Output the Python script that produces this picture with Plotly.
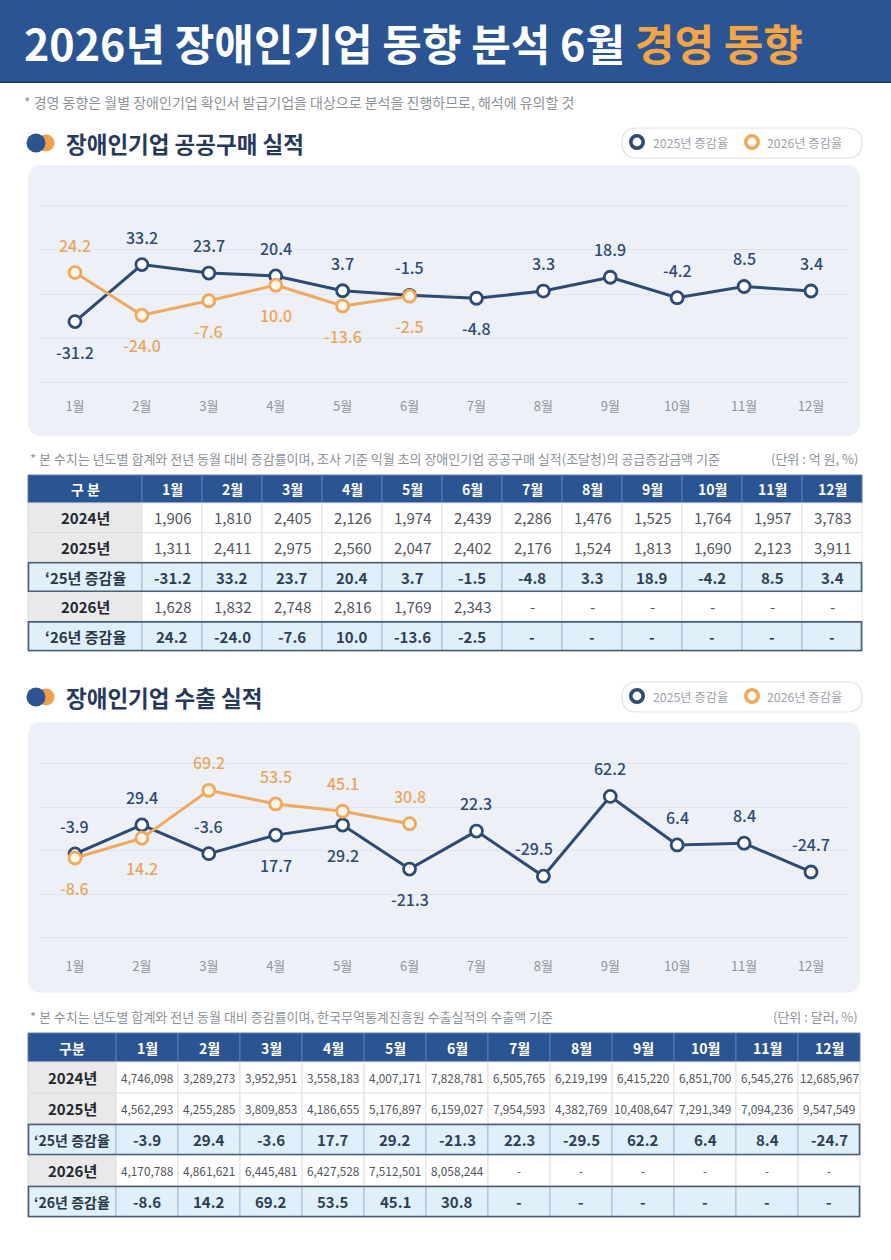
import plotly.graph_objects as go

W, H = 891, 1260

# ---------------- data ----------------
months = ['1월', '2월', '3월', '4월', '5월', '6월', '7월', '8월', '9월', '10월', '11월', '12월']

pp_2024 = [1906, 1810, 2405, 2126, 1974, 2439, 2286, 1476, 1525, 1764, 1957, 3783]
pp_2025 = [1311, 2411, 2975, 2560, 2047, 2402, 2176, 1524, 1813, 1690, 2123, 3911]
pp_rate_2025 = [-31.2, 33.2, 23.7, 20.4, 3.7, -1.5, -4.8, 3.3, 18.9, -4.2, 8.5, 3.4]
pp_2026 = [1628, 1832, 2748, 2816, 1769, 2343]
pp_rate_2026 = [24.2, -24.0, -7.6, 10.0, -13.6, -2.5]

ex_2024 = [4746098, 3289273, 3952951, 3558183, 4007171, 7828781, 6505765, 6219199,
           6415220, 6851700, 6545276, 12685967]
ex_2025 = [4562293, 4255285, 3809853, 4186655, 5176897, 6159027, 7954593, 4382769,
           10408647, 7291349, 7094236, 9547549]
ex_rate_2025 = [-3.9, 29.4, -3.6, 17.7, 29.2, -21.3, 22.3, -29.5, 62.2, 6.4, 8.4, -24.7]
ex_2026 = [4170788, 4861621, 6445481, 6427528, 7512501, 8058244]
ex_rate_2026 = [-8.6, 14.2, 69.2, 53.5, 45.1, 30.8]

row_labels = ['2024년', '2025년', '‘25년 증감율', '2026년', '‘26년 증감율']

# label placement (t = above point, b = below point)
pp_pos_2025 = ['b', 't', 't', 't', 't', 't', 'b', 't', 't', 't', 't', 't']
pp_pos_2026 = ['t', 'b', 'b', 'b', 'b', 'b']
ex_pos_2025 = ['t', 't', 't', 'b', 'b', 'b', 't', 't', 't', 't', 't', 't']
ex_pos_2026 = ['b', 'b', 't', 't', 't', 't']
ex_xshift_2025 = [0, 0, 0, 0, 0, 0, 0, -9, 0, 0, 0, 0]

# ---------------- style ----------------
FONT = 'Noto Sans CJK KR'
NAVY = '#2d4a74'
ORANGE = '#efa95e'
ORANGE_TXT = '#eba55b'
HEAD_BLUE = '#2b5592'
TITLE_ORANGE = '#f6a545'
PANEL = '#edf1f7'
GRID = '#e0e4eb'
TICK = '#8e949d'
NOTE = '#8c9198'
RATE_BG = '#dff0fb'
YEAR_BG = '#e9e9e9'


def px(x):
    return x / W


def py(y):
    return 1 - y / H


def rrect(x0, y0, x1, y1, r):
    pts = [
        ('M', [(x0 + r, y0)]), ('L', [(x1 - r, y0)]), ('Q', [(x1, y0), (x1, y0 + r)]),
        ('L', [(x1, y1 - r)]), ('Q', [(x1, y1), (x1 - r, y1)]), ('L', [(x0 + r, y1)]),
        ('Q', [(x0, y1), (x0, y1 - r)]), ('L', [(x0, y0 + r)]), ('Q', [(x0, y0), (x0 + r, y0)]),
    ]
    s = ''
    for cmd, ps in pts:
        s += cmd + ' ' + ' '.join(f'{px(a):.5f},{py(b):.5f}' for a, b in ps) + ' '
    return s + 'Z'


fig = go.Figure()
annotations = []
shapes = []
axes = {}

# ---------------- line charts ----------------
def add_lines(xa, ya, r25, r26):
    fig.add_trace(go.Scatter(
        x=months, y=r25, mode='lines+markers', xaxis=xa, yaxis=ya,
        line=dict(color=NAVY, width=3),
        marker=dict(size=12, color='white', line=dict(color=NAVY, width=2.8)),
        showlegend=False, hoverinfo='skip'))
    fig.add_trace(go.Scatter(
        x=months[:len(r26)], y=r26, mode='lines+markers', xaxis=xa, yaxis=ya,
        line=dict(color=ORANGE, width=3),
        marker=dict(size=12, color='#fff6ea', line=dict(color=ORANGE, width=2.8)),
        showlegend=False, hoverinfo='skip'))


add_lines('x', 'y', pp_rate_2025, pp_rate_2026)
add_lines('x2', 'y2', ex_rate_2025, ex_rate_2026)


def value_labels(xr, yr, vals, pos, color, xshift=None):
    for i, v in enumerate(vals):
        annotations.append(dict(
            x=months[i], y=v, xref=xr, yref=yr, text=f'{v:.1f}', showarrow=False,
            yshift=28 if pos[i] == 't' else -30,
            xshift=0 if xshift is None else xshift[i],
            font=dict(family=FONT, size=16, color=color, weight=500)))


value_labels('x', 'y', pp_rate_2025, pp_pos_2025, NAVY)
value_labels('x', 'y', pp_rate_2026, pp_pos_2026, ORANGE_TXT)
value_labels('x2', 'y2', ex_rate_2025, ex_pos_2025, NAVY, ex_xshift_2025)
value_labels('x2', 'y2', ex_rate_2026, ex_pos_2026, ORANGE_TXT)

xcommon = dict(range=[-0.523, 11.538], showgrid=False, zeroline=False, showline=False,
               ticks='', tickfont=dict(family=FONT, size=13, color=TICK), fixedrange=True)
ycommon = dict(showgrid=True, gridcolor=GRID, gridwidth=1, zeroline=False, showline=False,
               showticklabels=False, dtick=50, tick0=0, fixedrange=True)

axes['xaxis'] = dict(domain=[px(40), px(847)], anchor='y', **xcommon)
axes['yaxis'] = dict(domain=[py(397), py(175)], anchor='x',
                     range=[(294 - 397) / 0.885, (294 - 175) / 0.885], **ycommon)
axes['xaxis2'] = dict(domain=[px(40), px(847)], anchor='y2', **xcommon)
axes['yaxis2'] = dict(domain=[py(957), py(730)], anchor='x2',
                      range=[(850.5 - 957) / 0.87, (850.5 - 730) / 0.87], **ycommon)


# ---------------- tables (drawn on hidden axes, one unit = one pixel) ----------------
def fmt_rate(vals):
    return [f'<b>{v:.1f}</b>' for v in vals] + ['<b>-</b>'] * (12 - len(vals))


def fmt_num(vals):
    return [f'{v:,}' for v in vals] + ['-'] * (12 - len(vals))


def build_table(k, r2024, r2025, rate25, r2026, rate26, top, head_h, row_h, col0_w, col_w,
                num_size, head_label, label_size):
    xa, ya = f'x{k}', f'y{k}'
    widths = [col0_w] + [col_w] * 12
    edges = [0]
    for w in widths:
        edges.append(edges[-1] + w)
    tw = edges[-1]
    th = head_h + 5 * row_h
    pad = 3
    axes[f'xaxis{k}'] = dict(domain=[px(28 - pad), px(28 + tw + pad)], range=[-pad, tw + pad],
                             anchor=ya, visible=False, fixedrange=True)
    axes[f'yaxis{k}'] = dict(domain=[py(top + th + pad), py(top - pad)], range=[th + pad, -pad],
                             anchor=xa, visible=False, fixedrange=True)

    rows = [fmt_num(r2024), fmt_num(r2025), fmt_rate(rate25), fmt_num(r2026), fmt_rate(rate26)]
    is_rate = [False, False, True, False, True]

    def cell(c, y0, y1, fill, line, text, size, color):
        shapes.append(dict(type='rect', xref=xa, yref=ya, x0=edges[c], x1=edges[c + 1],
                           y0=y0, y1=y1, fillcolor=fill, line=dict(color=line, width=1),
                           layer='above'))
        annotations.append(dict(x=(edges[c] + edges[c + 1]) / 2, y=(y0 + y1) / 2,
                                xref=xa, yref=ya, text=text, showarrow=False,
                                xanchor='center', yanchor='middle',
                                font=dict(family=FONT, size=size, color=color)))

    headers = [f'<b>{head_label}</b>'] + [f'<b>{m}</b>' for m in months]
    for c in range(13):
        cell(c, 0, head_h, HEAD_BLUE, '#5b7fb5', headers[c], 14, 'white')
    for r in range(5):
        y0 = head_h + r * row_h
        y1 = y0 + row_h
        if is_rate[r]:
            cell(0, y0, y1, RATE_BG, '#a9bccf', f'<b>{row_labels[r]}</b>', label_size, '#2b3646')
            for c in range(12):
                cell(c + 1, y0, y1, RATE_BG, '#a9bccf', rows[r][c], 15, '#2e3e56')
        else:
            cell(0, y0, y1, YEAR_BG, '#dcdcdc', f'<b>{row_labels[r]}</b>', 15, '#23272e')
            for c in range(12):
                cell(c + 1, y0, y1, 'white', '#e1e1e1', rows[r][c], num_size, '#50555c')
    for r in range(5):
        if is_rate[r]:
            y0 = head_h + r * row_h
            shapes.append(dict(type='rect', xref=xa, yref=ya, x0=0.5, x1=tw - 0.5,
                               y0=y0 + 0.5, y1=y0 + row_h - 0.5, fillcolor='rgba(0,0,0,0)',
                               line=dict(color='#4d5d73', width=1.6), layer='above'))


build_table(3, pp_2024, pp_2025, pp_rate_2025, pp_2026, pp_rate_2026,
            top=475, head_h=28, row_h=29.6, col0_w=114, col_w=60, num_size=15,
            head_label='구 분', label_size=15)
build_table(4, ex_2024, ex_2025, ex_rate_2025, ex_2026, ex_rate_2026,
            top=1033, head_h=29, row_h=31, col0_w=88, col_w=62, num_size=11.8,
            head_label='구분', label_size=14)

# ---------------- decorations ----------------
shapes += [
    dict(type='rect', xref='paper', yref='paper', x0=0, x1=1, y0=py(82), y1=1,
         fillcolor=HEAD_BLUE, line=dict(width=0), layer='below'),
    dict(type='line', xref='paper', yref='paper', x0=0, x1=1, y0=py(82), y1=py(82),
         line=dict(color='#1f3e6e', width=2), layer='below'),
    dict(type='path', xref='paper', yref='paper', path=rrect(28, 165, 860, 436, 14),
         fillcolor=PANEL, line=dict(width=0), layer='below'),
    dict(type='path', xref='paper', yref='paper', path=rrect(28, 722, 860, 993, 14),
         fillcolor=PANEL, line=dict(width=0), layer='below'),
]


def circle(cx, cy, r, fill, line_color=None, lw=0):
    return dict(type='circle', xref='paper', yref='paper',
                x0=px(cx - r), x1=px(cx + r), y0=py(cy + r), y1=py(cy - r),
                fillcolor=fill, line=dict(color=line_color or fill, width=lw), layer='above')


def section(title, cy, note, unit, note_y):
    shapes.append(circle(46, cy, 8.5, '#f0a04b'))
    shapes.append(circle(36, cy, 9.5, HEAD_BLUE))
    annotations.append(dict(x=px(64), y=py(cy), xref='paper', yref='paper', xanchor='left',
                            yanchor='middle', showarrow=False, text=title,
                            font=dict(family=FONT, size=22.5, color='#26395a', weight='bold')))
    # legend pill
    shapes.append(dict(type='path', xref='paper', yref='paper',
                       path=rrect(622, cy - 15, 862, cy + 15, 15), fillcolor='white',
                       line=dict(color='#e0e0e0', width=1.2), layer='above'))
    shapes.append(circle(637, cy - 1, 6.2, 'white', NAVY, 3.6))
    shapes.append(circle(752, cy - 1, 6.2, 'white', ORANGE, 3.6))
    for xx, t in [(651, '2025년 증감율'), (765, '2026년 증감율')]:
        annotations.append(dict(x=px(xx), y=py(cy), xref='paper', yref='paper',
                                xanchor='left', yanchor='middle', showarrow=False, text=t,
                                font=dict(family=FONT, size=12.3, color='#9ba1a9')))
    annotations.append(dict(x=px(28), y=py(note_y), xref='paper', yref='paper',
                            xanchor='left', yanchor='middle', showarrow=False, text=note,
                            font=dict(family=FONT, size=13, color=NOTE)))
    annotations.append(dict(x=px(860), y=py(note_y), xref='paper', yref='paper',
                            xanchor='right', yanchor='middle', showarrow=False, text=unit,
                            font=dict(family=FONT, size=13, color=NOTE)))


section('장애인기업 공공구매 실적', 143,
        '* 본 수치는 년도별 합계와 전년 동월 대비 증감률이며, 조사 기준 익월 초의 장애인기업 공공구매 실적(조달청)의 공급증감금액 기준',
        '(단위 : 억 원, %)', 458)
section('장애인기업 수출 실적', 697,
        '* 본 수치는 년도별 합계와 전년 동월 대비 증감률이며, 한국무역통계진흥원 수출실적의 수출액 기준',
        '(단위 : 달러, %)', 1016)

annotations.append(dict(
    x=px(22), y=py(42), xref='paper', yref='paper', xanchor='left', yanchor='middle',
    showarrow=False,
    text=f"2026년 장애인기업 동향 분석 6월 <span style='color:{TITLE_ORANGE}'>경영 동향</span>",
    font=dict(family=FONT, size=43, color='white', weight='bold')))
annotations.append(dict(
    x=px(22), y=py(102), xref='paper', yref='paper', xanchor='left', yanchor='middle',
    showarrow=False,
    text='* 경영 동향은 월별 장애인기업 확인서 발급기업을 대상으로 분석을 진행하므로, 해석에 유의할 것',
    font=dict(family=FONT, size=14, color=NOTE)))

fig.update_layout(
    width=W, height=H, margin=dict(l=0, r=0, t=0, b=0),
    paper_bgcolor='white', plot_bgcolor='rgba(0,0,0,0)',
    font=dict(family=FONT),
    shapes=shapes, annotations=annotations, showlegend=False,
    **axes,
)

fig.write_html('out.html', config={'displayModeBar': False},
               post_script="document.body.style.margin='0';")
